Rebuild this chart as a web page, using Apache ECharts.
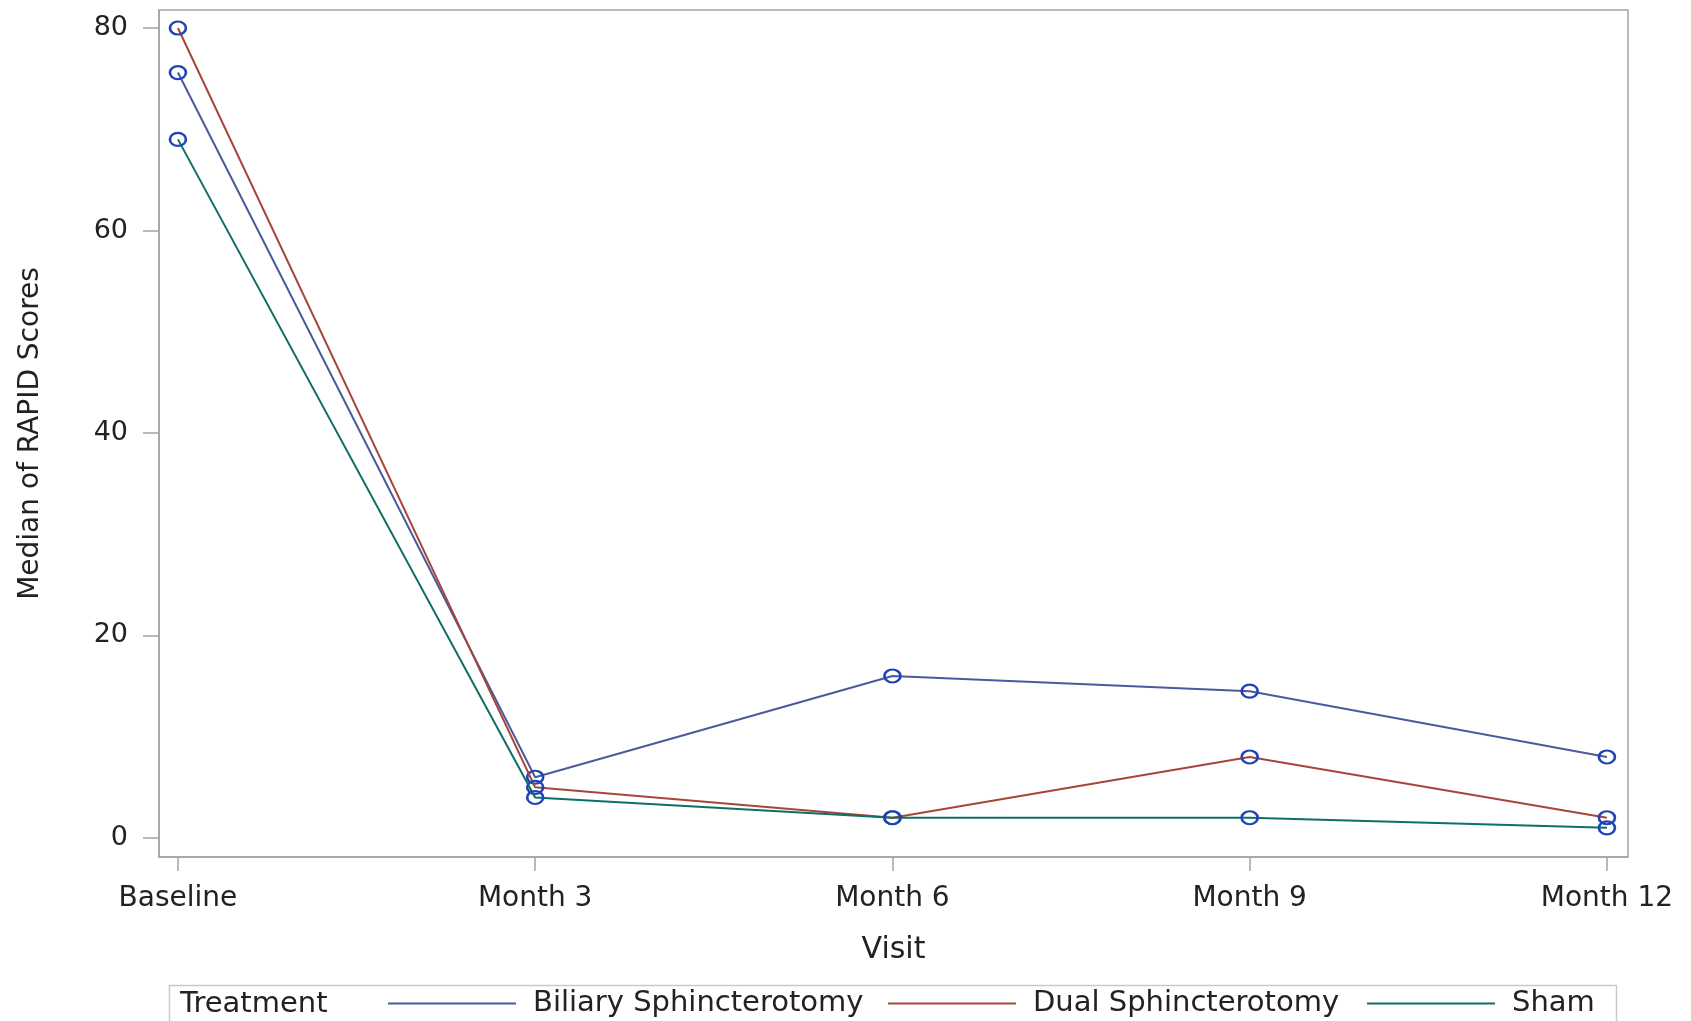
<!DOCTYPE html>
<html><head><meta charset="utf-8">
<script src="https://cdn.jsdelivr.net/npm/echarts@6/dist/echarts.min.js"></script>
<style>html,body{margin:0;padding:0;background:#fff}#c{width:1691px;height:1021px}</style>
</head><body><div id="c"></div>
<script>
// ---- data ----
const visits = ['Baseline', 'Month 3', 'Month 6', 'Month 9', 'Month 12'];
const yTicks = [0, 20, 40, 60, 80];
const seriesNames = ['Biliary Sphincterotomy', 'Dual Sphincterotomy', 'Sham'];
const biliary = [75.6, 6, 16, 14.5, 8];
const dual = [80, 5, 2, 8, 2];
const sham = [69, 4, 2, 2, 1];
const legendTitle = 'Treatment';
const xTitle = 'Visit';
const yTitle = 'Median of RAPID Scores';

// ---- style ----
const lineColors = ['#4a5a9c', '#a8453a', '#0f6e66'];
const markerColor = '#1f44b4';
const frameColor = '#a3a3a3';
const textColor = '#222';
const FONT = 'DejaVu Sans';

const chart = echarts.init(document.getElementById('c'), null, {renderer: 'canvas'});
const allValues = [biliary, dual, sham];

const series = allValues.map((vals, k) => ({
  name: seriesNames[k],
  type: 'line',
  data: vals.map((v, i) => [i, v]),
  symbol: 'circle',
  symbolSize: [16, 13],
  showSymbol: true,
  animation: false,
  lineStyle: {color: lineColors[k], width: 2},
  itemStyle: {color: 'rgba(0,0,0,0)', borderColor: markerColor, borderWidth: 2.4},
  z: 2 + k
}));

const legendLefts = [388, 888, 1367];
const legends = seriesNames.map((n, k) => ({
  left: legendLefts[k],
  top: 989,
  padding: 0,
  orient: 'horizontal',
  itemWidth: 128,
  itemHeight: 2,
  icon: 'rect',
  data: [{name: n, itemStyle: {color: lineColors[k], borderWidth: 0}}],
  textStyle: {fontFamily: FONT, fontSize: 29, color: textColor, padding: [0, 0, 0, 12]},
  selectedMode: false
}));

chart.setOption({
  backgroundColor: '#fff',
  animation: false,
  grid: {left: 159, right: 63, top: 10, bottom: 164, show: true, borderColor: frameColor, borderWidth: 1.5, containLabel: false},
  xAxis: {
    type: 'value',
    min: -0.053,
    max: 4.059,
    name: xTitle,
    nameLocation: 'middle',
    nameGap: 78,
    nameTextStyle: {fontFamily: FONT, fontSize: 30, color: textColor},
    axisLine: {show: true, onZero: false, lineStyle: {color: frameColor, width: 1.5}},
    axisTick: {show: true, length: 14, lineStyle: {color: frameColor, width: 1.5}, customValues: visits.map((_, i) => i)},
    axisLabel: {
      fontFamily: FONT, fontSize: 28, color: textColor, margin: 28,
      customValues: visits.map((_, i) => i),
      formatter: v => visits[Math.round(v)]
    },
    splitLine: {show: false}
  },
  yAxis: {
    type: 'value',
    min: -1.88,
    max: 81.78,
    name: yTitle,
    nameLocation: 'middle',
    nameGap: 114,
    nameRotate: 90,
    nameTextStyle: {fontFamily: FONT, fontSize: 28, color: textColor},
    axisLine: {show: true, onZero: false, lineStyle: {color: frameColor, width: 1.5}},
    axisTick: {show: true, length: 16, lineStyle: {color: frameColor, width: 1.5}, customValues: yTicks},
    axisLabel: {fontFamily: FONT, fontSize: 27, color: textColor, margin: 31, customValues: yTicks},
    splitLine: {show: false}
  },
  legend: legends,
  graphic: [
    {type: 'rect', left: 167, top: 983, shape: {x: 0, y: 0, width: 1447, height: 80},
     style: {fill: 'none', stroke: '#c9c9c9', lineWidth: 1.5}, silent: true},
    {type: 'text', left: 180, top: 990, style: {text: legendTitle, font: '29px "DejaVu Sans"', fill: textColor}}
  ],
  series: series
});
</script>
</body></html>
